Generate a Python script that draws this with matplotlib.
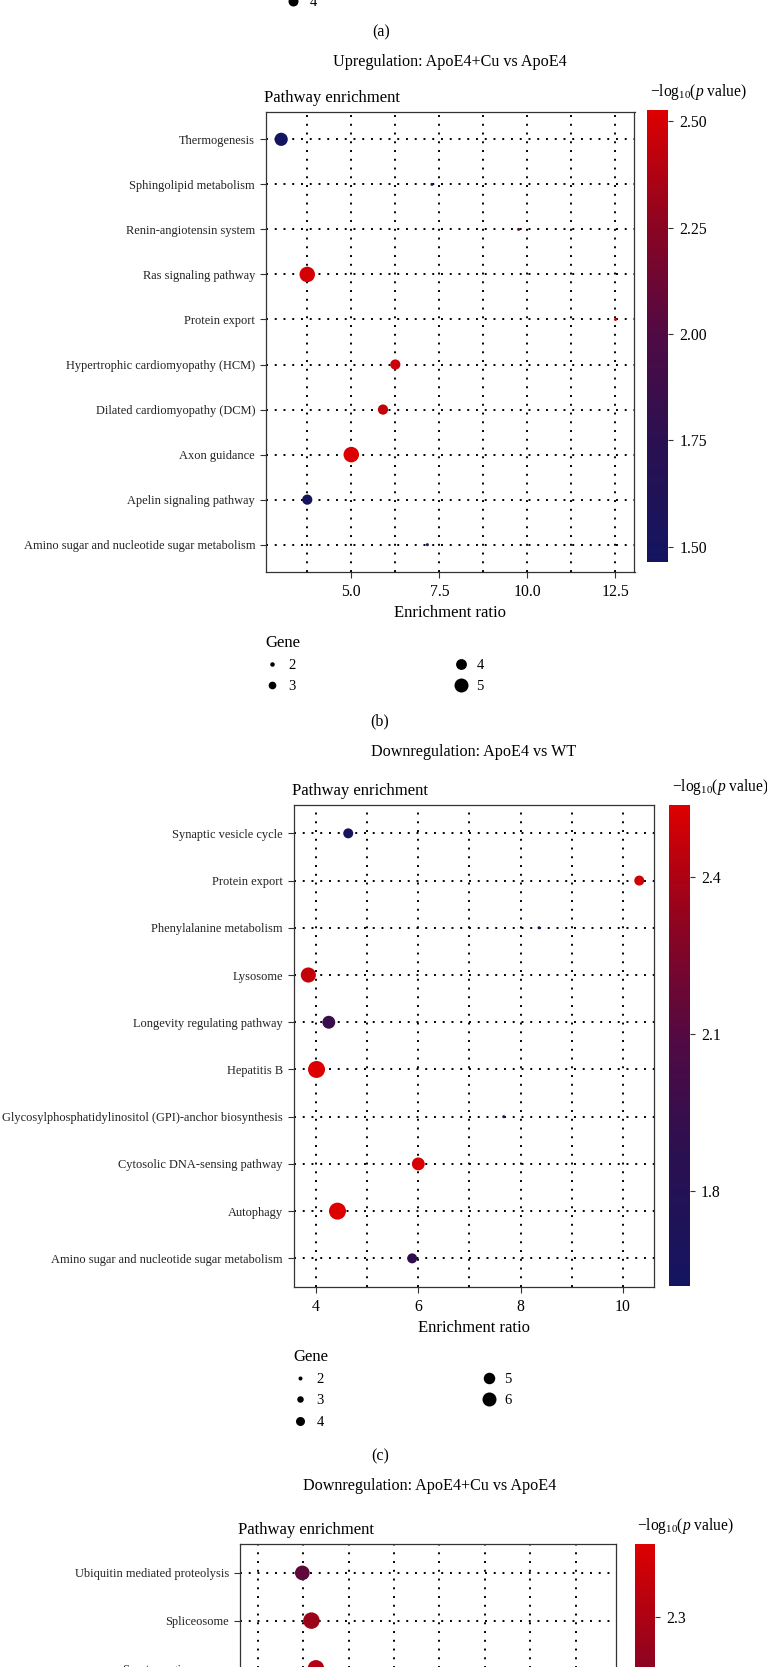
import matplotlib
matplotlib.use('Agg')
import matplotlib.pyplot as plt
import numpy as np
from matplotlib.colors import LinearSegmentedColormap
from matplotlib.lines import Line2D
from matplotlib.ticker import FixedLocator, FormatStrFormatter

plt.rcParams['font.family'] = ['Liberation Serif', 'DejaVu Serif']
plt.rcParams['mathtext.fontset'] = 'custom'
plt.rcParams['mathtext.rm'] = 'Liberation Serif'
plt.rcParams['mathtext.it'] = 'Liberation Serif:italic'

W, H, DPI = 767, 1667, 100

# ---- data (pathways listed top to bottom) ----
b_pathways = ['Thermogenesis', 'Sphingolipid metabolism', 'Renin-angiotensin system',
              'Ras signaling pathway', 'Protein export', 'Hypertrophic cardiomyopathy (HCM)',
              'Dilated cardiomyopathy (DCM)', 'Axon guidance', 'Apelin signaling pathway',
              'Amino sugar and nucleotide sugar metabolism']
b_ratio = [3.01, 7.29, 9.75, 3.75, 12.5, 6.25, 5.90, 5.00, 3.75, 7.16]
b_logp = [1.47, 1.50, 2.05, 2.50, 2.51, 2.46, 2.43, 2.526, 1.50, 1.465]
b_gene = [4, 2, 2, 5, 2, 3, 3, 5, 3, 2]
b_legend_genes = [2, 3, 4, 5]

c_pathways = ['Synaptic vesicle cycle', 'Protein export', 'Phenylalanine metabolism',
              'Lysosome', 'Longevity regulating pathway', 'Hepatitis B',
              'Glycosylphosphatidylinositol (GPI)-anchor biosynthesis',
              'Cytosolic DNA-sensing pathway', 'Autophagy',
              'Amino sugar and nucleotide sugar metabolism']
c_ratio = [4.63, 10.32, 8.36, 3.85, 4.25, 4.01, 7.67, 6.00, 4.42, 5.88]
c_logp = [1.65, 2.50, 1.62, 2.46, 1.95, 2.537, 1.618, 2.52, 2.53, 1.90]
c_gene = [3, 3, 2, 5, 4, 6, 2, 4, 6, 3]
c_legend_genes = [2, 3, 4, 5, 6]

# panel (d) is cut off by the page: only the top rows are visible
d_pathways = ['Ubiquitin mediated proteolysis', 'Spliceosome', 'Serotonergic synapse']
d_ratio = [3.98, 4.18, 4.28]
d_logp = [2.05, 2.25, 2.32]
d_gene = [5, 6, 6]
d_logp_range = [1.55, 2.435]
d_rows_total = 10

a_legend_genes = [2, 3, 4, 5, 6]

cmap = LinearSegmentedColormap.from_list(
    'navy_red', [(0.0, '#141560'), (0.27, '#2a1050'), (0.5, '#4f0a44'),
                 (0.74, '#8a0422'), (1.0, '#dd0000')])

fig = plt.figure(figsize=(W / DPI, H / DPI), dpi=DPI)


def rect(l, t, r, b):
    return [l / W, 1 - b / H, (r - l) / W, (b - t) / H]


def point_size(genes, gmin, gmax, dmax, dmin=3.0):
    g = np.asarray(genes, float)
    d = dmin + (dmax - dmin) * np.sqrt((g - gmin) / (gmax - gmin))
    return (d * 72 / DPI) ** 2


def legend_ms(g, gmin, gmax, dmin, dmax):
    return (dmin + (dmax - dmin) * (g - gmin) / (gmax - gmin)) * 72 / DPI


def add_gene_legend(genes, x, y, dmin, dmax):
    handles = [Line2D([], [], marker='o', ls='', color='black', markeredgewidth=0,
                      markersize=legend_ms(g, min(genes), max(genes), dmin, dmax))
               for g in genes]
    fig.legend(handles, [str(g) for g in genes], loc='upper left',
               bbox_to_anchor=(x / W, 1 - y / H), ncol=2, frameon=False,
               title='Gene', alignment='left', fontsize=10.5, title_fontsize=12,
               borderpad=0, borderaxespad=0, handlelength=1.0, handletextpad=0.6,
               columnspacing=10.8, labelspacing=0.55)


def panel(axbox, caxbox, pathways, ratio, logp, gene, gmin, gmax, dmax,
          xmajor, xminor, xfmt, xlim, cticks, cfmt, crange, nrows):
    ax = fig.add_axes(rect(*axbox))
    cax = fig.add_axes(rect(*caxbox))
    ypos = -np.arange(len(pathways))
    sc = ax.scatter(ratio, ypos, s=point_size(gene, gmin, gmax, dmax), c=logp,
                    cmap=cmap, vmin=crange[0], vmax=crange[1], linewidths=0, zorder=3)
    ax.set_xlim(*xlim)
    ax.set_ylim(-(nrows - 1) - 0.6, 0.6)
    ax.set_yticks(ypos)
    ax.set_yticklabels(pathways, fontsize=8.9, color='#222222')
    ax.xaxis.set_major_locator(FixedLocator(xmajor))
    ax.xaxis.set_minor_locator(FixedLocator(xminor))
    ax.xaxis.set_major_formatter(FormatStrFormatter(xfmt))
    ax.tick_params(axis='both', which='major', length=4.6, width=0.8, color='#333333',
                   pad=3)
    ax.tick_params(axis='x', which='major', labelsize=11.3, pad=4)
    ax.tick_params(axis='x', which='minor', length=0)
    ax.grid(True, which='both', color='black', linestyle=(0, (1, 3.5)), linewidth=1.4)
    ax.set_axisbelow(True)
    for sp in ax.spines.values():
        sp.set_linewidth(0.9)
        sp.set_color('#333333')
    ax.set_xlabel('Enrichment ratio', fontsize=12, labelpad=3.5)
    ax.annotate('Pathway enrichment', xy=(0, 1), xycoords='axes fraction',
                xytext=(-1, 10), textcoords='offset points', ha='left', va='center',
                fontsize=12)

    cbar = fig.colorbar(sc, cax=cax)
    cbar.outline.set_visible(False)
    cbar.set_ticks(cticks)
    cbar.ax.yaxis.set_major_formatter(FormatStrFormatter(cfmt))
    cax.tick_params(length=3.6, width=0.8, color='#333333', labelsize=11.3, pad=4.5)
    cax.annotate(r'$\mathrm{-log}_{10}(\mathit{p}\ \mathrm{value})$', xy=(0, 1),
                 xycoords='axes fraction', xytext=(2, 13), textcoords='offset points',
                 ha='left', va='center', fontsize=11.2)
    return ax


# ---- panel (a) legend fragment at the top of the page ----
add_gene_legend(a_legend_genes, 286, -71, 4, 16)
fig.text(381.6 / W, 1 - 32 / H, '(a)', ha='center', va='center', fontsize=11.5)

# ---- panel (b) ----
fig.text(450 / W, 1 - 62 / H, 'Upregulation: ApoE4+Cu vs ApoE4', ha='center',
         va='center', fontsize=11.6)
panel((265.6, 112.3, 634.5, 571.7), (647, 110, 668, 561.7),
      b_pathways, b_ratio, b_logp, b_gene, 2, 5, 15.5,
      [5, 7.5, 10, 12.5], [3.75, 6.25, 8.75, 11.25], '%.1f', (2.568, 13.04),
      [1.5, 1.75, 2.0, 2.25, 2.5], '%.2f', (min(b_logp), max(b_logp)), len(b_pathways))
add_gene_legend(b_legend_genes, 265, 635, 4.5, 14)
fig.text(380 / W, 1 - 721.7 / H, '(b)', ha='center', va='center', fontsize=11.5)

# ---- panel (c) ----
fig.text(473.6 / W, 1 - 752.3 / H, 'Downregulation: ApoE4 vs WT', ha='center',
         va='center', fontsize=11.6)
panel((293.5, 805, 654.1, 1286.7), (669.3, 805, 689.8, 1285.7),
      c_pathways, c_ratio, c_logp, c_gene, 2, 6, 17,
      [4, 6, 8, 10], [5, 7, 9], '%d', (3.56, 10.61),
      [1.8, 2.1, 2.4], '%.1f', (min(c_logp), max(c_logp)), len(c_pathways))
add_gene_legend(c_legend_genes, 293, 1349, 4, 14)
fig.text(380.6 / W, 1 - 1456.7 / H, '(c)', ha='center', va='center', fontsize=11.5)

# ---- panel (d), runs off the page ----
fig.text(429.6 / W, 1 - 1485.7 / H, 'Downregulation: ApoE4+Cu vs ApoE4', ha='center',
         va='center', fontsize=11.6)
d_bottom = 1544.3 + (d_rows_total + 0.2) * 47.7
panel((239.7, 1544.3, 615.5, d_bottom), (634.5, 1544, 654.6, d_bottom - 10),
      d_pathways, d_ratio, d_logp, d_gene, 2, 6, 16.5,
      [4, 6, 8, 10], [3, 5, 7, 9], '%d', (2.6, 10.88),
      [1.7, 2.0, 2.3], '%.1f', d_logp_range, d_rows_total)

fig.savefig('out.png', dpi=DPI)
